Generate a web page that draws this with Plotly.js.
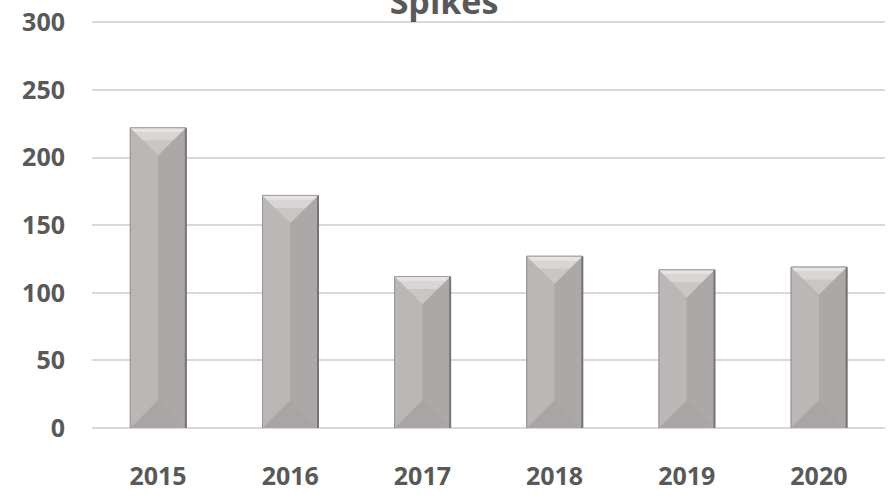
<!DOCTYPE html>
<html>
<head>
<meta charset="utf-8">
<script src="https://cdn.plot.ly/plotly-3.0.1.min.js"></script>
<style>html,body{margin:0;padding:0;background:#fff;}</style>
</head>
<body>
<div id="chart" style="width:888px;height:495px;"></div>
<script>
// ---- data ----
var years = ['2015', '2016', '2017', '2018', '2019', '2020'];
var spikes = [222, 172, 112, 127, 117, 119];
var yTicks = [0, 50, 100, 150, 200, 250, 300];
var chartTitle = 'Spikes';

// ---- style constants ----
var W = 888, H = 495;
var M = {l: 92, r: 3, t: 21, b: 67};
var yMax = 301;
var barW = 0.42;
var idx = years.map(function (_, i) { return i; });
var pxPerX = (W - M.l - M.r) / years.length;
var pxPerY = (H - M.t - M.b) / yMax;
var bevel = (barW / 2) * pxPerX / pxPerY; // 45-degree bevel depth in data units

var FONT = "'Open Sans', 'Liberation Sans', sans-serif";
var TXT = '#595959';

// bevel decoration shapes computed from the data values
var shapes = [];
function poly(pts) {
  return 'M ' + pts.map(function (p) { return p[0] + ',' + p[1]; }).join(' L ') + ' Z';
}
spikes.forEach(function (v, i) {
  var x0 = i - barW / 2, x1 = i + barW / 2, xm = i;
  var b = Math.min(bevel, v / 2);
  shapes.push({type: 'path', xref: 'x', yref: 'y', layer: 'above', line: {width: 0},
    fillcolor: '#bbb7b6', path: poly([[x0, 0], [xm, b], [xm, v - b], [x0, v]])});
  shapes.push({type: 'path', xref: 'x', yref: 'y', layer: 'above', line: {width: 0},
    fillcolor: '#aca8a7', path: poly([[x1, 0], [xm, b], [xm, v - b], [x1, v]])});
  shapes.push({type: 'path', xref: 'x', yref: 'y', layer: 'above', line: {width: 0},
    fillcolor: '#cac6c5', path: poly([[x0, v], [x1, v], [xm, v - b]])});
  var hb = b * 0.45;
  shapes.push({type: 'path', xref: 'x', yref: 'y', layer: 'above', line: {width: 0},
    fillcolor: '#d8d5d4', path: poly([[x0, v], [x1, v], [x1 - (barW / 2) * 0.45, v - hb], [x0 + (barW / 2) * 0.45, v - hb]])});
  var hb2 = b * 0.15;
  shapes.push({type: 'path', xref: 'x', yref: 'y', layer: 'above', line: {width: 0},
    fillcolor: '#e6e4e3', path: poly([[x0, v], [x1, v], [x1 - (barW / 2) * 0.15, v - hb2], [x0 + (barW / 2) * 0.15, v - hb2]])});
  shapes.push({type: 'path', xref: 'x', yref: 'y', layer: 'above', line: {width: 0},
    fillcolor: '#a9a5a4', path: poly([[x0, 0], [x1, 0], [xm, b]])});
  shapes.push({type: 'line', xref: 'x', yref: 'y', layer: 'above',
    x0: x1, x1: x1, y0: 0, y1: v, line: {color: '#777372', width: 2}});
  shapes.push({type: 'line', xref: 'x', yref: 'y', layer: 'above',
    x0: x0, x1: x0, y0: 0, y1: v, line: {color: '#9a9695', width: 1}});
  shapes.push({type: 'line', xref: 'x', yref: 'y', layer: 'above',
    x0: x0, x1: x1, y0: v, y1: v, line: {color: '#a29e9d', width: 1}});
});

var trace = {
  type: 'bar',
  x: idx,
  y: spikes,
  width: barW,
  marker: {color: '#b3afae', line: {color: '#8a8685', width: 1}},
  hovertemplate: '%{text}: %{y}<extra></extra>',
  text: years,
  textposition: 'none'
};

var layout = {
  width: W, height: H,
  margin: M,
  paper_bgcolor: '#ffffff',
  plot_bgcolor: '#ffffff',
  showlegend: false,
  title: {
    text: '<b>' + chartTitle + '</b>',
    font: {family: FONT, size: 34, color: TXT},
    x: 0.5, xref: 'container', xanchor: 'center',
    y: 1 - 14 / H, yref: 'container', yanchor: 'bottom'
  },
  xaxis: {
    range: [-0.5, years.length - 0.5],
    tickvals: idx,
    ticktext: years.map(function (s) { return '<b>' + s + '</b>'; }),
    showgrid: false,
    zeroline: false,
    showline: false,
    ticks: '',
    ticklabelstandoff: 31,
    tickfont: {family: FONT, size: 25, color: TXT},
    fixedrange: true
  },
  yaxis: {
    range: [0, yMax],
    tickvals: yTicks,
    ticktext: yTicks.map(function (t) { return '<b>' + t + '</b>'; }),
    showgrid: true,
    gridcolor: '#d9d9d9',
    gridwidth: 2,
    zeroline: true,
    zerolinecolor: '#d9d9d9',
    zerolinewidth: 2,
    showline: false,
    ticks: '',
    ticklabelstandoff: 26,
    tickfont: {family: FONT, size: 25, color: TXT},
    fixedrange: true
  },
  shapes: shapes
};

Plotly.newPlot('chart', [trace], layout, {displayModeBar: false, staticPlot: true});
</script>
</body>
</html>
